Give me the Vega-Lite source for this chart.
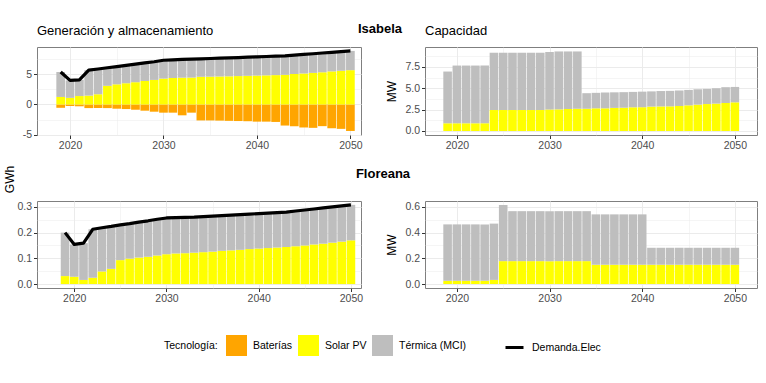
{
  "$schema": "https://vega.github.io/schema/vega-lite/v6.json",
  "padding": {"left": 2, "top": 22, "right": 8, "bottom": 20},
  "title": {"text": "Isabela", "anchor": "middle", "fontSize": 13, "fontWeight": "bold", "offset": -11, "color": "black"},
  "datasets": {
    "isa_gen": [
      {"year": 2019, "Baterías": -0.55, "Solar PV": 1.25, "Térmica (MCI)": 4.15, "Demanda": 5.4},
      {"year": 2020, "Baterías": -0.25, "Solar PV": 1.1, "Térmica (MCI)": 2.9, "Demanda": 4.0},
      {"year": 2021, "Baterías": -0.3, "Solar PV": 1.4, "Térmica (MCI)": 2.7, "Demanda": 4.1},
      {"year": 2022, "Baterías": -0.6, "Solar PV": 1.47, "Térmica (MCI)": 4.23, "Demanda": 5.7},
      {"year": 2023, "Baterías": -0.6, "Solar PV": 1.68, "Térmica (MCI)": 4.22, "Demanda": 5.9},
      {"year": 2024, "Baterías": -0.6, "Solar PV": 3.1, "Térmica (MCI)": 3.0, "Demanda": 6.1},
      {"year": 2025, "Baterías": -0.7, "Solar PV": 3.35, "Térmica (MCI)": 2.95, "Demanda": 6.3},
      {"year": 2026, "Baterías": -0.76, "Solar PV": 3.53, "Térmica (MCI)": 2.97, "Demanda": 6.5},
      {"year": 2027, "Baterías": -0.87, "Solar PV": 3.7, "Térmica (MCI)": 3.0, "Demanda": 6.7},
      {"year": 2028, "Baterías": -1.03, "Solar PV": 3.9, "Térmica (MCI)": 3.0, "Demanda": 6.9},
      {"year": 2029, "Baterías": -1.2, "Solar PV": 4.08, "Térmica (MCI)": 3.02, "Demanda": 7.1},
      {"year": 2030, "Baterías": -1.36, "Solar PV": 4.3, "Térmica (MCI)": 3.05, "Demanda": 7.35},
      {"year": 2031, "Baterías": -1.36, "Solar PV": 4.4, "Térmica (MCI)": 3.02, "Demanda": 7.42},
      {"year": 2032, "Baterías": -1.8, "Solar PV": 4.45, "Térmica (MCI)": 3.03, "Demanda": 7.48},
      {"year": 2033, "Baterías": -1.36, "Solar PV": 4.47, "Térmica (MCI)": 3.06, "Demanda": 7.53},
      {"year": 2034, "Baterías": -2.65, "Solar PV": 4.6, "Térmica (MCI)": 2.98, "Demanda": 7.58},
      {"year": 2035, "Baterías": -2.65, "Solar PV": 4.62, "Térmica (MCI)": 3.02, "Demanda": 7.64},
      {"year": 2036, "Baterías": -2.68, "Solar PV": 4.65, "Térmica (MCI)": 3.05, "Demanda": 7.7},
      {"year": 2037, "Baterías": -2.72, "Solar PV": 4.68, "Térmica (MCI)": 3.07, "Demanda": 7.75},
      {"year": 2038, "Baterías": -2.75, "Solar PV": 4.72, "Térmica (MCI)": 3.08, "Demanda": 7.8},
      {"year": 2039, "Baterías": -2.78, "Solar PV": 4.76, "Térmica (MCI)": 3.1, "Demanda": 7.86},
      {"year": 2040, "Baterías": -2.85, "Solar PV": 4.8, "Térmica (MCI)": 3.11, "Demanda": 7.91},
      {"year": 2041, "Baterías": -2.85, "Solar PV": 4.84, "Térmica (MCI)": 3.13, "Demanda": 7.97},
      {"year": 2042, "Baterías": -2.9, "Solar PV": 4.88, "Térmica (MCI)": 3.14, "Demanda": 8.02},
      {"year": 2043, "Baterías": -3.5, "Solar PV": 4.93, "Térmica (MCI)": 3.15, "Demanda": 8.08},
      {"year": 2044, "Baterías": -3.6, "Solar PV": 5.05, "Térmica (MCI)": 3.15, "Demanda": 8.2},
      {"year": 2045, "Baterías": -3.82, "Solar PV": 5.15, "Térmica (MCI)": 3.17, "Demanda": 8.32},
      {"year": 2046, "Baterías": -3.88, "Solar PV": 5.25, "Térmica (MCI)": 3.18, "Demanda": 8.43},
      {"year": 2047, "Baterías": -3.6, "Solar PV": 5.35, "Térmica (MCI)": 3.2, "Demanda": 8.55},
      {"year": 2048, "Baterías": -3.95, "Solar PV": 5.5, "Térmica (MCI)": 3.17, "Demanda": 8.67},
      {"year": 2049, "Baterías": -4.05, "Solar PV": 5.6, "Térmica (MCI)": 3.18, "Demanda": 8.78},
      {"year": 2050, "Baterías": -4.4, "Solar PV": 5.7, "Térmica (MCI)": 3.2, "Demanda": 8.9}
    ],
    "flo_gen": [
      {"year": 2019, "Solar PV": 0.031, "Térmica (MCI)": 0.169, "Demanda": 0.2},
      {"year": 2020, "Solar PV": 0.028, "Térmica (MCI)": 0.126, "Demanda": 0.154},
      {"year": 2021, "Solar PV": 0.016, "Térmica (MCI)": 0.143, "Demanda": 0.159},
      {"year": 2022, "Solar PV": 0.024, "Térmica (MCI)": 0.189, "Demanda": 0.213},
      {"year": 2023, "Solar PV": 0.049, "Térmica (MCI)": 0.17, "Demanda": 0.219},
      {"year": 2024, "Solar PV": 0.059, "Térmica (MCI)": 0.165, "Demanda": 0.224},
      {"year": 2025, "Solar PV": 0.093, "Térmica (MCI)": 0.137, "Demanda": 0.23},
      {"year": 2026, "Solar PV": 0.099, "Térmica (MCI)": 0.136, "Demanda": 0.235},
      {"year": 2027, "Solar PV": 0.103, "Térmica (MCI)": 0.138, "Demanda": 0.241},
      {"year": 2028, "Solar PV": 0.106, "Térmica (MCI)": 0.14, "Demanda": 0.246},
      {"year": 2029, "Solar PV": 0.111, "Térmica (MCI)": 0.141, "Demanda": 0.252},
      {"year": 2030, "Solar PV": 0.116, "Térmica (MCI)": 0.141, "Demanda": 0.257},
      {"year": 2031, "Solar PV": 0.119, "Térmica (MCI)": 0.139, "Demanda": 0.258},
      {"year": 2032, "Solar PV": 0.12, "Térmica (MCI)": 0.139, "Demanda": 0.259},
      {"year": 2033, "Solar PV": 0.122, "Térmica (MCI)": 0.138, "Demanda": 0.26},
      {"year": 2034, "Solar PV": 0.124, "Térmica (MCI)": 0.138, "Demanda": 0.262},
      {"year": 2035, "Solar PV": 0.126, "Térmica (MCI)": 0.138, "Demanda": 0.264},
      {"year": 2036, "Solar PV": 0.129, "Térmica (MCI)": 0.137, "Demanda": 0.266},
      {"year": 2037, "Solar PV": 0.131, "Térmica (MCI)": 0.137, "Demanda": 0.268},
      {"year": 2038, "Solar PV": 0.133, "Térmica (MCI)": 0.137, "Demanda": 0.27},
      {"year": 2039, "Solar PV": 0.136, "Térmica (MCI)": 0.136, "Demanda": 0.272},
      {"year": 2040, "Solar PV": 0.138, "Térmica (MCI)": 0.136, "Demanda": 0.274},
      {"year": 2041, "Solar PV": 0.14, "Térmica (MCI)": 0.136, "Demanda": 0.276},
      {"year": 2042, "Solar PV": 0.142, "Térmica (MCI)": 0.136, "Demanda": 0.278},
      {"year": 2043, "Solar PV": 0.144, "Térmica (MCI)": 0.136, "Demanda": 0.28},
      {"year": 2044, "Solar PV": 0.147, "Térmica (MCI)": 0.137, "Demanda": 0.284},
      {"year": 2045, "Solar PV": 0.15, "Térmica (MCI)": 0.138, "Demanda": 0.288},
      {"year": 2046, "Solar PV": 0.154, "Térmica (MCI)": 0.138, "Demanda": 0.292},
      {"year": 2047, "Solar PV": 0.157, "Térmica (MCI)": 0.139, "Demanda": 0.296},
      {"year": 2048, "Solar PV": 0.161, "Térmica (MCI)": 0.139, "Demanda": 0.3},
      {"year": 2049, "Solar PV": 0.165, "Térmica (MCI)": 0.139, "Demanda": 0.304},
      {"year": 2050, "Solar PV": 0.17, "Térmica (MCI)": 0.138, "Demanda": 0.308}
    ],
    "isa_cap": [
      {"year": 2019, "Solar PV": 0.9, "Térmica (MCI)": 6.05},
      {"year": 2020, "Solar PV": 0.9, "Térmica (MCI)": 6.75},
      {"year": 2021, "Solar PV": 0.9, "Térmica (MCI)": 6.75},
      {"year": 2022, "Solar PV": 0.9, "Térmica (MCI)": 6.75},
      {"year": 2023, "Solar PV": 0.9, "Térmica (MCI)": 6.75},
      {"year": 2024, "Solar PV": 2.45, "Térmica (MCI)": 6.7},
      {"year": 2025, "Solar PV": 2.45, "Térmica (MCI)": 6.7},
      {"year": 2026, "Solar PV": 2.45, "Térmica (MCI)": 6.7},
      {"year": 2027, "Solar PV": 2.45, "Térmica (MCI)": 6.7},
      {"year": 2028, "Solar PV": 2.45, "Térmica (MCI)": 6.7},
      {"year": 2029, "Solar PV": 2.45, "Térmica (MCI)": 6.7},
      {"year": 2030, "Solar PV": 2.5, "Térmica (MCI)": 6.73},
      {"year": 2031, "Solar PV": 2.53, "Térmica (MCI)": 6.77},
      {"year": 2032, "Solar PV": 2.57, "Térmica (MCI)": 6.73},
      {"year": 2033, "Solar PV": 2.6, "Térmica (MCI)": 6.7},
      {"year": 2034, "Solar PV": 2.6, "Térmica (MCI)": 1.82},
      {"year": 2035, "Solar PV": 2.65, "Térmica (MCI)": 1.81},
      {"year": 2036, "Solar PV": 2.65, "Térmica (MCI)": 1.85},
      {"year": 2037, "Solar PV": 2.7, "Térmica (MCI)": 1.82},
      {"year": 2038, "Solar PV": 2.72, "Térmica (MCI)": 1.82},
      {"year": 2039, "Solar PV": 2.77, "Térmica (MCI)": 1.8},
      {"year": 2040, "Solar PV": 2.78, "Térmica (MCI)": 1.82},
      {"year": 2041, "Solar PV": 2.85, "Térmica (MCI)": 1.78},
      {"year": 2042, "Solar PV": 2.87, "Térmica (MCI)": 1.8},
      {"year": 2043, "Solar PV": 2.88, "Térmica (MCI)": 1.81},
      {"year": 2044, "Solar PV": 2.92, "Térmica (MCI)": 1.81},
      {"year": 2045, "Solar PV": 3.0, "Térmica (MCI)": 1.8},
      {"year": 2046, "Solar PV": 3.08, "Térmica (MCI)": 1.8},
      {"year": 2047, "Solar PV": 3.15, "Térmica (MCI)": 1.77},
      {"year": 2048, "Solar PV": 3.2, "Térmica (MCI)": 1.8},
      {"year": 2049, "Solar PV": 3.27, "Térmica (MCI)": 1.85},
      {"year": 2050, "Solar PV": 3.35, "Térmica (MCI)": 1.8}
    ],
    "flo_cap": [
      {"year": 2019, "Solar PV": 0.025, "Térmica (MCI)": 0.439},
      {"year": 2020, "Solar PV": 0.025, "Térmica (MCI)": 0.439},
      {"year": 2021, "Solar PV": 0.025, "Térmica (MCI)": 0.439},
      {"year": 2022, "Solar PV": 0.025, "Térmica (MCI)": 0.439},
      {"year": 2023, "Solar PV": 0.025, "Térmica (MCI)": 0.439},
      {"year": 2024, "Solar PV": 0.032, "Térmica (MCI)": 0.438},
      {"year": 2025, "Solar PV": 0.178, "Térmica (MCI)": 0.437},
      {"year": 2026, "Solar PV": 0.178, "Térmica (MCI)": 0.389},
      {"year": 2027, "Solar PV": 0.178, "Térmica (MCI)": 0.389},
      {"year": 2028, "Solar PV": 0.178, "Térmica (MCI)": 0.389},
      {"year": 2029, "Solar PV": 0.178, "Térmica (MCI)": 0.389},
      {"year": 2030, "Solar PV": 0.178, "Térmica (MCI)": 0.389},
      {"year": 2031, "Solar PV": 0.178, "Térmica (MCI)": 0.389},
      {"year": 2032, "Solar PV": 0.178, "Térmica (MCI)": 0.389},
      {"year": 2033, "Solar PV": 0.178, "Térmica (MCI)": 0.389},
      {"year": 2034, "Solar PV": 0.178, "Térmica (MCI)": 0.389},
      {"year": 2035, "Solar PV": 0.15, "Térmica (MCI)": 0.392},
      {"year": 2036, "Solar PV": 0.15, "Térmica (MCI)": 0.392},
      {"year": 2037, "Solar PV": 0.15, "Térmica (MCI)": 0.392},
      {"year": 2038, "Solar PV": 0.15, "Térmica (MCI)": 0.392},
      {"year": 2039, "Solar PV": 0.15, "Térmica (MCI)": 0.392},
      {"year": 2040, "Solar PV": 0.15, "Térmica (MCI)": 0.392},
      {"year": 2041, "Solar PV": 0.15, "Térmica (MCI)": 0.132},
      {"year": 2042, "Solar PV": 0.15, "Térmica (MCI)": 0.132},
      {"year": 2043, "Solar PV": 0.15, "Térmica (MCI)": 0.132},
      {"year": 2044, "Solar PV": 0.15, "Térmica (MCI)": 0.132},
      {"year": 2045, "Solar PV": 0.15, "Térmica (MCI)": 0.132},
      {"year": 2046, "Solar PV": 0.15, "Térmica (MCI)": 0.132},
      {"year": 2047, "Solar PV": 0.15, "Térmica (MCI)": 0.132},
      {"year": 2048, "Solar PV": 0.15, "Térmica (MCI)": 0.132},
      {"year": 2049, "Solar PV": 0.15, "Térmica (MCI)": 0.132},
      {"year": 2050, "Solar PV": 0.15, "Térmica (MCI)": 0.132}
    ]
  },
  "columns": 2,
  "bounds": "flush",
  "spacing": {"row": 66, "column": 64},
  "concat": [
    {
      "width": 324, "height": 88,
      "title": {"text": "Generación y almacenamiento", "anchor": "start", "frame": "group", "fontSize": 13, "fontWeight": "normal", "offset": 9},
      "layer": [
        {
          "data": {"name": "isa_gen"},
          "transform": [{"fold": ["Baterías", "Solar PV", "Térmica (MCI)"], "as": ["tec", "value"]}],
          "mark": {"type": "bar", "size": 8.7},
          "encoding": {
            "x": {"field": "year", "type": "quantitative", "title": null,
              "scale": {"domain": [2017.0, 2050.6], "nice": false, "zero": false},
              "axis": {"values": [2020, 2025, 2030, 2035, 2040, 2045, 2050], "format": "d",
                "labelExpr": "datum.value % 10 === 0 ? datum.label : ''",
                "tickOpacity": {"condition": {"test": "datum.value % 10 !== 0", "value": 0}, "value": 1},
                "gridWidth": {"condition": {"test": "datum.value % 10 !== 0", "value": 0.5}, "value": 1}}},
            "y": {"field": "value", "type": "quantitative", "stack": "zero", "title": "GWh",
              "scale": {"domain": [-5.07, 9.55], "nice": false, "zero": false},
              "axis": {"values": [-5, -2.5, 0, 2.5, 5, 7.5], "labelOverlap": false,
                "labelExpr": "datum.value % 5 === 0 ? (datum.value < 0 ? '-' + abs(datum.value) : '' + datum.value) : ''",
                "tickOpacity": {"condition": {"test": "datum.value % 5 !== 0", "value": 0}, "value": 1},
                "gridWidth": {"condition": {"test": "datum.value % 5 !== 0", "value": 0.5}, "value": 1},
                "titleX": -21, "titleY": 132}},
            "color": {"field": "tec", "type": "nominal",
              "scale": {"domain": ["Baterías", "Solar PV", "Térmica (MCI)"], "range": ["#FFA500", "#FFFF00", "#BEBEBE"]},
              "legend": {"orient": "none", "legendX": 127, "legendY": 288, "direction": "horizontal", "titleOrient": "left", "title": "Tecnología:",
                "symbolType": "square", "symbolSize": 441, "symbolStrokeWidth": 0, "symbolOpacity": 1,
                "labelFontSize": 10.5, "titleFontSize": 10.5, "titleFontWeight": "normal", "titleColor": "black", "labelColor": "black",
                "columnPadding": 5, "labelOffset": 6, "titlePadding": 8}},
            "order": {"field": "tec", "type": "nominal", "sort": "ascending"}
          }
        },
        {
          "data": {"name": "isa_gen"},
          "mark": {"type": "line", "strokeWidth": 3.2, "strokeJoin": "round"},
          "encoding": {
            "x": {"field": "year", "type": "quantitative", "title": null,
              "scale": {"domain": [2017.0, 2050.6], "nice": false, "zero": false},
              "axis": {"values": [2020, 2025, 2030, 2035, 2040, 2045, 2050], "format": "d",
                "labelExpr": "datum.value % 10 === 0 ? datum.label : ''",
                "tickOpacity": {"condition": {"test": "datum.value % 10 !== 0", "value": 0}, "value": 1},
                "gridWidth": {"condition": {"test": "datum.value % 10 !== 0", "value": 0.5}, "value": 1}}},
            "y": {"field": "Demanda", "type": "quantitative", "title": "GWh",
              "scale": {"domain": [-5.07, 9.55], "nice": false, "zero": false},
              "axis": {"values": [-5, -2.5, 0, 2.5, 5, 7.5], "labelOverlap": false,
                "labelExpr": "datum.value % 5 === 0 ? (datum.value < 0 ? '-' + abs(datum.value) : '' + datum.value) : ''",
                "tickOpacity": {"condition": {"test": "datum.value % 5 !== 0", "value": 0}, "value": 1},
                "gridWidth": {"condition": {"test": "datum.value % 5 !== 0", "value": 0.5}, "value": 1},
                "titleX": -21, "titleY": 132}},
            "stroke": {"datum": "Demanda.Elec", "type": "nominal",
              "scale": {"domain": ["Demanda.Elec"], "range": ["black"]},
              "legend": {"orient": "none", "legendX": 467, "legendY": 290, "title": null, "symbolType": "stroke", "symbolSize": 324, "symbolStrokeWidth": 3,
                "labelFontSize": 10.5, "labelColor": "black", "labelOffset": 7}}
          }
        }
      ]
    },
    {
      "width": 332, "height": 88,
      "title": {"text": "Capacidad", "anchor": "start", "frame": "group", "fontSize": 13, "fontWeight": "normal", "offset": 9},
      "data": {"name": "isa_cap"},
      "transform": [{"fold": ["Solar PV", "Térmica (MCI)"], "as": ["tec", "value"]}],
      "mark": {"type": "bar", "size": 8.6},
      "encoding": {
        "x": {"field": "year", "type": "quantitative", "title": null,
          "scale": {"domain": [2017.1, 2051.85], "nice": false, "zero": false},
          "axis": {"values": [2020, 2025, 2030, 2035, 2040, 2045, 2050], "format": "d",
            "labelExpr": "datum.value % 10 === 0 ? datum.label : ''",
            "tickOpacity": {"condition": {"test": "datum.value % 10 !== 0", "value": 0}, "value": 1},
            "gridWidth": {"condition": {"test": "datum.value % 10 !== 0", "value": 0.5}, "value": 1}}},
        "y": {"field": "value", "type": "quantitative", "stack": "zero", "title": "MW",
          "scale": {"domain": [-0.47, 9.82], "nice": false, "zero": false},
          "axis": {"values": [0, 1.25, 2.5, 3.75, 5, 6.25, 7.5, 8.75], "labelOverlap": false,
            "labelExpr": "datum.value % 2.5 === 0 ? format(datum.value, '.1f') : ''",
            "tickOpacity": {"condition": {"test": "datum.value % 2.5 !== 0", "value": 0}, "value": 1},
            "gridWidth": {"condition": {"test": "datum.value % 2.5 !== 0", "value": 0.5}, "value": 1},
            "titlePadding": 6}},
        "color": {"field": "tec", "type": "nominal"},
        "order": {"field": "tec", "type": "nominal", "sort": "ascending"}
      }
    },
    {
      "width": 324, "height": 87,
      "title": {"text": "Floreana", "anchor": "start", "frame": "group", "align": "center", "dx": 346, "fontSize": 13, "fontWeight": "bold", "offset": 20},
      "layer": [
        {
          "data": {"name": "flo_gen"},
          "transform": [{"fold": ["Solar PV", "Térmica (MCI)"], "as": ["tec", "value"]}],
          "mark": {"type": "bar", "size": 8.6},
          "encoding": {
            "x": {"field": "year", "type": "quantitative", "title": null,
              "scale": {"domain": [2016.5, 2050.55], "nice": false, "zero": false},
              "axis": {"values": [2020, 2025, 2030, 2035, 2040, 2045, 2050], "format": "d",
                "labelExpr": "datum.value % 10 === 0 ? datum.label : ''",
                "tickOpacity": {"condition": {"test": "datum.value % 10 !== 0", "value": 0}, "value": 1},
                "gridWidth": {"condition": {"test": "datum.value % 10 !== 0", "value": 0.5}, "value": 1}}},
            "y": {"field": "value", "type": "quantitative", "stack": "zero", "title": null,
              "scale": {"domain": [-0.0154, 0.323], "nice": false, "zero": false},
              "axis": {"values": [0, 0.05, 0.1, 0.15, 0.2, 0.25, 0.3], "labelOverlap": false,
                "labelExpr": "slice(format(datum.value, '.2f'), -1) === '0' ? format(datum.value, '.1f') : ''",
                "tickOpacity": {"condition": {"test": "slice(format(datum.value, '.2f'), -1) !== '0'", "value": 0}, "value": 1},
                "gridWidth": {"condition": {"test": "slice(format(datum.value, '.2f'), -1) !== '0'", "value": 0.5}, "value": 1}}},
            "color": {"field": "tec", "type": "nominal"},
            "order": {"field": "tec", "type": "nominal", "sort": "ascending"}
          }
        },
        {
          "data": {"name": "flo_gen"},
          "mark": {"type": "line", "strokeWidth": 3.2, "strokeJoin": "round"},
          "encoding": {
            "x": {"field": "year", "type": "quantitative", "title": null,
              "scale": {"domain": [2016.5, 2050.55], "nice": false, "zero": false},
              "axis": {"values": [2020, 2025, 2030, 2035, 2040, 2045, 2050], "format": "d",
                "labelExpr": "datum.value % 10 === 0 ? datum.label : ''",
                "tickOpacity": {"condition": {"test": "datum.value % 10 !== 0", "value": 0}, "value": 1},
                "gridWidth": {"condition": {"test": "datum.value % 10 !== 0", "value": 0.5}, "value": 1}}},
            "y": {"field": "Demanda", "type": "quantitative", "title": null,
              "scale": {"domain": [-0.0154, 0.323], "nice": false, "zero": false},
              "axis": {"values": [0, 0.05, 0.1, 0.15, 0.2, 0.25, 0.3], "labelOverlap": false,
                "labelExpr": "slice(format(datum.value, '.2f'), -1) === '0' ? format(datum.value, '.1f') : ''",
                "tickOpacity": {"condition": {"test": "slice(format(datum.value, '.2f'), -1) !== '0'", "value": 0}, "value": 1},
                "gridWidth": {"condition": {"test": "slice(format(datum.value, '.2f'), -1) !== '0'", "value": 0.5}, "value": 1}}},
            "stroke": {"datum": "Demanda.Elec", "type": "nominal"}
          }
        }
      ]
    },
    {
      "width": 332, "height": 87,
      "data": {"name": "flo_cap"},
      "transform": [{"fold": ["Solar PV", "Térmica (MCI)"], "as": ["tec", "value"]}],
      "mark": {"type": "bar", "size": 8.6},
      "encoding": {
        "x": {"field": "year", "type": "quantitative", "title": null,
          "scale": {"domain": [2017.1, 2051.85], "nice": false, "zero": false},
          "axis": {"values": [2020, 2025, 2030, 2035, 2040, 2045, 2050], "format": "d",
            "labelExpr": "datum.value % 10 === 0 ? datum.label : ''",
            "tickOpacity": {"condition": {"test": "datum.value % 10 !== 0", "value": 0}, "value": 1},
            "gridWidth": {"condition": {"test": "datum.value % 10 !== 0", "value": 0.5}, "value": 1}}},
        "y": {"field": "value", "type": "quantitative", "stack": "zero", "title": "MW",
          "scale": {"domain": [-0.031, 0.646], "nice": false, "zero": false},
          "axis": {"values": [0, 0.1, 0.2, 0.3, 0.4, 0.5, 0.6], "labelOverlap": false,
            "labelExpr": "abs(datum.value * 5 - round(datum.value * 5)) < 0.001 ? format(datum.value, '.1f') : ''",
            "tickOpacity": {"condition": {"test": "abs(datum.value * 5 - round(datum.value * 5)) >= 0.001", "value": 0}, "value": 1},
            "gridWidth": {"condition": {"test": "abs(datum.value * 5 - round(datum.value * 5)) >= 0.001", "value": 0.5}, "value": 1},
            "titlePadding": 6}},
        "color": {"field": "tec", "type": "nominal"},
        "order": {"field": "tec", "type": "nominal", "sort": "ascending"}
      }
    }
  ],
  "resolve": {"scale": {"color": "shared", "stroke": "shared"}},
  "config": {
    "font": "Liberation Sans",
    "background": "white",
    "view": {"stroke": "#7f7f7f", "strokeWidth": 1},
    "axis": {"domain": false, "tickColor": "#333333", "tickSize": 3.5, "labelColor": "#4D4D4D", "labelFontSize": 10.5, "labelPadding": 2, "labelOverlap": false,
      "gridColor": "#EBEBEB", "titleFontWeight": "normal", "titleFontSize": 12, "titleColor": "black"},
    "title": {"color": "black", "font": "Liberation Sans"}
  }
}
